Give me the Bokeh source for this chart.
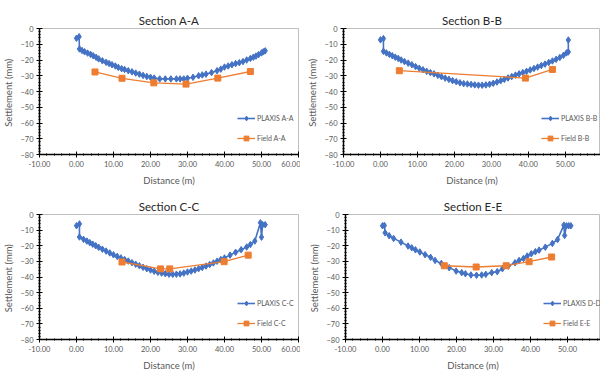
from bokeh.plotting import figure
from bokeh.layouts import column, row
from bokeh.models import NumeralTickFormatter, Range1d, Legend, LegendItem, FixedTicker
from bokeh.embed import file_html
from bokeh.resources import INLINE

# ---------------- data ----------------
titles = ["Section A-A", "Section B-B", "Section C-C", "Section E-E"]
plaxis_labels = ["PLAXIS A-A", "PLAXIS B-B", "PLAXIS C-C", "PLAXIS D-D"]
field_labels = ["Field A-A", "Field B-B", "Field C-C", "Field E-E"]

plaxis_a_x = [0.0, 0.7, 0.8, 1.5, 2.2, 3.0, 3.8, 4.5, 5.3, 6.0, 7.0, 8.0, 8.8, 9.6, 10.5, 11.3, 12.2, 13.0,
              14.0, 15.0, 16.0, 17.0, 18.0, 19.0, 20.0, 21.0, 22.5, 24.0, 25.5, 27.0, 28.0, 29.0, 30.0,
              31.5, 33.0, 34.0, 35.0, 36.5, 38.0, 39.0, 40.0, 41.0, 42.0, 43.0, 44.0, 45.0, 46.0, 47.0,
              47.8, 48.5, 49.2, 50.0, 50.5, 51.0]
plaxis_a_y = [-6.2, -5.2, -13.0, -14.0, -14.8, -15.6, -16.4, -17.3, -18.3, -19.3, -20.5, -21.5, -22.2, -23.0,
              -23.8, -24.7, -25.5, -26.0, -26.8, -27.5, -28.3, -29.0, -29.8, -30.5, -31.0, -31.5, -32.0,
              -32.0, -32.0, -32.0, -32.0, -32.0, -31.6, -31.0, -30.0, -29.5, -29.0, -28.0, -26.8, -25.8,
              -24.5, -23.8, -23.0, -22.3, -21.7, -21.0, -20.0, -19.0, -18.2, -17.5, -16.6, -15.5, -14.8, -14.2]
field_a_x = [5.0, 12.3, 20.9, 29.6, 38.2, 47.0]
field_a_y = [-27.6, -31.6, -34.5, -35.3, -31.5, -27.3]

plaxis_b_x = [0.0, 0.8, 0.8, 1.6, 2.4, 3.2, 4.0, 4.8, 5.6, 6.5, 7.5, 8.5, 9.5, 10.5, 11.5, 12.5, 13.5, 14.5,
              15.5, 16.5, 17.5, 18.5, 19.5, 20.5, 21.5, 22.5, 23.5, 24.5, 25.5, 26.5, 27.5, 28.5, 29.5,
              30.5, 31.5, 32.5, 33.5, 34.5, 35.5, 36.5, 37.5, 38.5, 39.5, 40.5, 41.5, 42.5, 43.5, 44.5,
              45.5, 46.5, 47.5, 48.5, 49.5, 50.3, 50.8, 50.8]
plaxis_b_y = [-7.2, -6.4, -14.5, -15.5, -16.4, -17.3, -18.2, -19.0, -20.0, -21.0, -22.0, -23.0, -24.2, -25.2,
              -26.2, -27.2, -28.0, -28.8, -29.7, -30.6, -31.5, -32.3, -33.1, -33.8, -34.5, -35.0, -35.2,
              -35.5, -35.8, -36.0, -36.0, -35.8, -35.4, -34.8, -34.0, -33.2, -32.3, -31.4, -30.5, -29.6,
              -28.8, -28.0, -27.2, -26.3, -25.4, -24.5, -23.5, -22.6, -21.6, -20.6, -19.6, -18.4, -17.0,
              -15.5, -14.9, -7.3]
field_b_x = [5.1, 39.2, 46.5]
field_b_y = [-26.8, -31.5, -26.0]

plaxis_c_x = [0.0, 0.8, 0.8, 1.9, 2.8, 3.6, 4.4, 5.2, 6.0, 7.0, 8.0, 9.0, 10.0, 11.0, 12.0, 13.0, 14.0, 15.0,
              16.0, 17.0, 18.0, 19.0, 20.0, 21.0, 22.0, 23.0, 24.0, 25.0, 26.0, 27.0, 28.0, 29.0, 30.0,
              31.0, 32.0, 33.0, 34.0, 35.0, 36.0, 37.0, 38.0, 39.0, 40.0, 41.5, 43.0, 44.5, 46.0, 47.0,
              48.2, 49.7, 50.0, 50.3, 51.0]
plaxis_c_y = [-7.2, -6.0, -14.4, -15.9, -17.0, -18.0, -19.0, -20.0, -21.0, -22.2, -23.4, -24.6, -25.8, -26.8,
              -27.8, -28.8, -29.8, -30.8, -31.8, -32.8, -33.8, -34.7, -35.5, -36.3, -37.0, -37.5, -37.9,
              -38.2, -38.3, -38.2, -38.0, -37.5, -36.8, -36.2, -35.5, -34.7, -33.9, -33.0, -32.0, -31.0,
              -29.9, -28.8, -27.8, -26.0, -24.2, -22.5, -20.8, -19.2, -17.0, -5.3, -14.5, -6.5, -6.5]
field_c_x = [12.3, 22.7, 25.2, 39.9, 46.4]
field_c_y = [-30.4, -34.8, -34.8, -30.2, -26.0]

plaxis_d_x = [0.0, 0.5, 0.7, 1.8, 3.0, 5.0, 6.9, 7.9, 8.9, 10.1, 11.5, 13.0, 14.2, 15.9, 18.0, 19.9, 21.4,
              22.4, 23.9, 25.4, 26.8, 27.9, 29.5, 31.0, 32.4, 34.0, 35.8, 36.9, 38.1, 39.1, 40.2, 41.3,
              42.3, 44.0, 45.9, 47.3, 49.0, 49.2, 49.7, 50.3, 50.9]
plaxis_d_y = [-7.2, -7.0, -11.7, -13.6, -15.3, -17.7, -20.2, -21.3, -22.6, -24.0, -25.7, -27.4, -29.4, -31.3,
              -34.0, -36.2, -37.2, -37.9, -38.7, -38.9, -38.7, -38.3, -37.2, -36.6, -34.7, -33.0, -30.9,
              -29.4, -28.1, -26.6, -25.1, -23.8, -22.8, -20.9, -18.5, -16.0, -6.8, -13.4, -7.2, -7.2, -7.2]
field_e_x = [16.7, 25.3, 33.4, 39.6, 45.7]
field_e_y = [-32.8, -33.6, -32.8, -30.2, -27.2]

x_ticks = [-10, 0, 10, 20, 30, 40, 50, 60]
y_ticks = [0, -10, -20, -30, -40, -50, -60, -70, -80]

BLUE = "#4472C4"
ORANGE = "#ED7D31"
GREY = "#595959"
FONT = "Lato"


def make_panel(title, px, py, fx, fy, plabel, flabel,
               left, fw, right, xend, top, fh, bottom):
    p = figure(frame_width=fw, frame_height=fh, output_backend="svg", toolbar_location=None,
               x_range=Range1d(-10, xend), y_range=Range1d(-80, 0),
               min_border_left=left, min_border_right=right,
               min_border_top=top, min_border_bottom=bottom)
    p.title.text = title
    p.title.align = "center"
    p.title.text_font = FONT
    p.title.text_font_size = "11.5px"
    p.title.text_font_style = "normal"
    p.title.text_color = "#262626"
    p.title.standoff = 4
    p.outline_line_color = "#BFBFBF"
    p.outline_line_width = 1
    p.xgrid.visible = False
    p.ygrid.visible = False
    p.background_fill_color = "white"
    p.border_fill_color = "white"

    for ax in (p.xaxis[0], p.yaxis[0]):
        ax.axis_line_color = "black"
        ax.axis_line_width = 1.5
        ax.major_tick_line_color = "black"
        ax.minor_tick_line_color = "black"
        ax.major_tick_in = 3
        ax.major_tick_out = 3
        ax.minor_tick_in = 1
        ax.minor_tick_out = 1
        ax.major_label_text_font = FONT
        ax.major_label_text_font_size = "7.5px"
        ax.major_label_text_color = GREY
        ax.axis_label_text_font = FONT
        ax.axis_label_text_font_size = "9.5px"
        ax.axis_label_text_font_style = "normal"
        ax.axis_label_text_color = GREY
        ax.major_label_standoff = 3

    p.xaxis.ticker = FixedTicker(ticks=x_ticks, minor_ticks=[v / 2 for v in range(-20, 121, 4)])
    p.yaxis.ticker = FixedTicker(ticks=y_ticks, minor_ticks=list(range(-80, 1, 2)))
    p.xaxis.formatter = NumeralTickFormatter(format="0.00")
    p.xaxis.axis_label = "Distance (m)"
    p.yaxis.axis_label = "Settlement  (mm)"
    p.xaxis.axis_label_standoff = 5
    p.yaxis.axis_label_standoff = 3

    l1 = p.line(px, py, line_color=BLUE, line_width=1.6)
    m1 = p.scatter(px, py, marker="diamond", size=6.5, fill_color=BLUE, line_color=BLUE)
    l2 = p.line(fx, fy, line_color=ORANGE, line_width=1.3)
    m2 = p.scatter(fx, fy, marker="square", size=6, fill_color=ORANGE, line_color=ORANGE)

    legend = Legend(items=[LegendItem(label=plabel, renderers=[l1, m1]),
                           LegendItem(label=flabel, renderers=[l2, m2])],
                    location=(198, 10), orientation="vertical",
                    label_text_font=FONT, label_text_font_size="7px", label_text_color=GREY,
                    glyph_width=18, glyph_height=12, label_height=12, spacing=8,
                    label_standoff=2, padding=0, margin=0,
                    background_fill_alpha=0, border_line_color=None)
    p.add_layout(legend)
    return p


p1 = make_panel(titles[0], plaxis_a_x, plaxis_a_y, field_a_x, field_a_y,
                plaxis_labels[0], field_labels[0], 39, 259, 2, 60, 28, 126, 36)
p2 = make_panel(titles[1], plaxis_b_x, plaxis_b_y, field_b_x, field_b_y,
                plaxis_labels[1], field_labels[1], 43, 257, 0, 59.5, 28, 126, 36)
p3 = make_panel(titles[2], plaxis_c_x, plaxis_c_y, field_c_x, field_c_y,
                plaxis_labels[2], field_labels[2], 39, 259, 2, 60, 24, 125, 33)
p4 = make_panel(titles[3], plaxis_d_x, plaxis_d_y, field_e_x, field_e_y,
                plaxis_labels[3], field_labels[3], 45, 255, 0, 58.9, 24, 125, 33)

layout = column(row(p1, p2), row(p3, p4))

open("out.html", "w").write(file_html(layout, INLINE))
